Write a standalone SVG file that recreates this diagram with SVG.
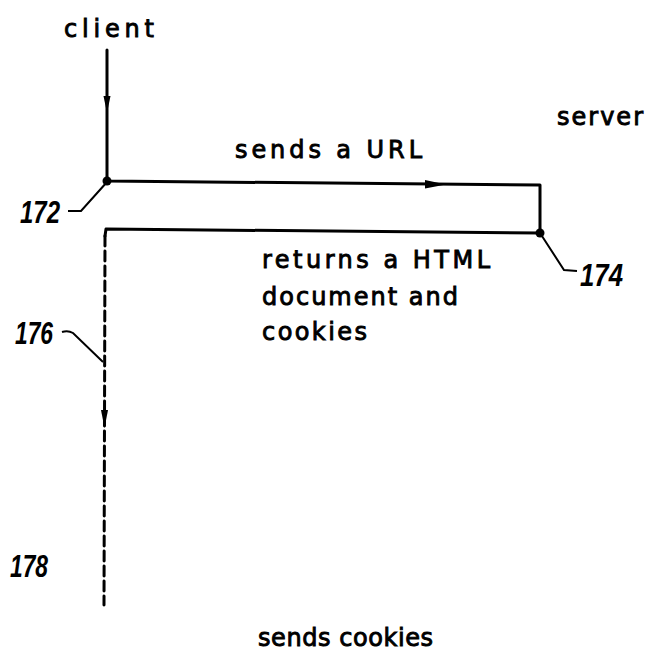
<svg xmlns="http://www.w3.org/2000/svg" width="658" height="654" viewBox="0 0 658 654">
<style>
.lbl{font-family:"DejaVu Sans","Liberation Sans",sans-serif;font-size:24px;fill:#000;stroke:#000;stroke-width:0.9}
.num{font-family:"Liberation Sans","DejaVu Sans",sans-serif;font-style:italic;font-weight:bold;font-size:31px;fill:#000}
.ln{fill:none;stroke:#000;stroke-width:3;stroke-linecap:round;stroke-linejoin:round}
.ld{fill:none;stroke:#000;stroke-width:2}
.ah{fill:#000;stroke:none}
</style>
<rect width="658" height="654" fill="#fff"/>
<g id="client">
<text class="lbl" x="64" y="37" textLength="90" lengthAdjust="spacing">client</text>
</g>
<g id="server">
<text class="lbl" x="557" y="125" textLength="86" lengthAdjust="spacing">server</text>
</g>
<g id="connectors">
<path class="ln" d="M107,50 L107,181 L540,185 L540,233 L106,229 L105,236"/>
<path class="ln" d="M105,236 L104,605" stroke-dasharray="10,5"/>
<circle cx="107" cy="181" r="4.5"/>
<circle cx="540" cy="233" r="4.5"/>
<polygon class="ah" points="103.5,96 110.5,96 107,113"/>
<polygon class="ah" points="425,180 425,188.5 446,184.5"/>
<polygon class="ah" points="101,410 108,410 104.5,428"/>
<path class="ld" d="M107,182 L81,211 L68,211"/>
<path class="ld" d="M540,233 L564,270 L577,271"/>
<path class="ld" d="M62,332 Q68,330 73,333 L103,362"/>
</g>
<g id="labels">
<text class="lbl" x="235" y="158" textLength="187" lengthAdjust="spacing">sends a URL</text>
<text class="lbl" x="262" y="268" textLength="228" lengthAdjust="spacing">returns a HTML</text>
<text class="lbl" x="262" y="305" textLength="196" lengthAdjust="spacing">document and</text>
<text class="lbl" x="262" y="340" textLength="105" lengthAdjust="spacing">cookies</text>
<text class="lbl" x="258" y="646" textLength="175" lengthAdjust="spacing">sends cookies</text>
</g>
<g id="refs">
<text class="num" x="20" y="223" textLength="40" lengthAdjust="spacingAndGlyphs">172</text>
<text class="num" x="580" y="286" textLength="43" lengthAdjust="spacingAndGlyphs">174</text>
<text class="num" x="15" y="344" textLength="38" lengthAdjust="spacingAndGlyphs">176</text>
<text class="num" x="10" y="577" textLength="38" lengthAdjust="spacingAndGlyphs">178</text>
</g>
</svg>
